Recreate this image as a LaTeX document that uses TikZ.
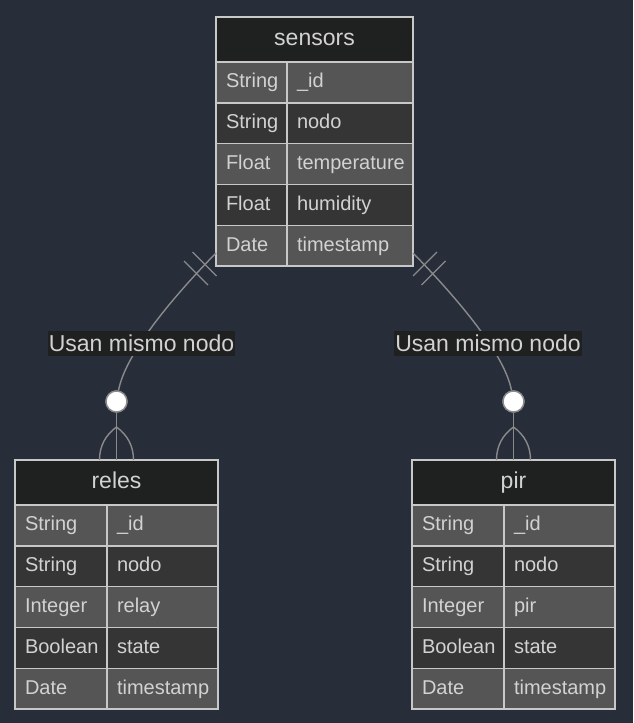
\documentclass[tikz,border=0pt]{standalone}
\usepackage{fontspec}
\setmainfont{Liberation Sans}
\usetikzlibrary{calc}
\definecolor{bgcol}{HTML}{282D3A}
\definecolor{hdcol}{HTML}{1F2020}
\definecolor{rowA}{HTML}{555555}
\definecolor{rowB}{HTML}{353535}
\definecolor{bordercol}{HTML}{C8C8C8}
\definecolor{txtcol}{HTML}{D2D2D2}
\definecolor{linecol}{HTML}{8A8A8A}
\newcommand{\rowfont}{\fontsize{20}{24}\selectfont}
\newcommand{\ttlfont}{\fontsize{23}{27}\selectfont}
\tikzset{
  cellbox/.style={draw=bordercol, line width=1.4pt, text=txtcol, font=\rowfont,
    anchor=north west, inner xsep=10pt, inner ysep=0pt, outer sep=0pt,
    minimum height=40.8pt, text height=12pt, text depth=1pt, align=left},
  headbox/.style={draw=bordercol, line width=1.4pt, fill=hdcol, text=txtcol, font=\ttlfont,
    anchor=north west, inner sep=0pt, outer sep=0pt, minimum height=45pt,
    text height=12pt, text depth=1pt},
  rel/.style={draw=linecol, line width=1.4pt},
  onecirc/.style={circle, draw=linecol, fill=white, line width=1.4pt, minimum size=21pt, inner sep=0pt},
  lbl/.style={fill=hdcol, text=txtcol, font=\ttlfont, inner xsep=1pt, inner ysep=0pt,
    minimum height=25pt, text height=16.5pt, text depth=1.5pt},
}
% #1 name, #2 x0, #3 w1, #4 w2, #5 ytop, #6 title, #7 rows
\newcommand{\ertab}[7]{%
  \pgfmathsetmacro{\wtot}{#3+#4}
  \node[headbox, minimum width=\wtot pt] (#1-h) at (#2,#5) {#6};
  \foreach \ty/\nm [count=\i] in {#7} {
    \ifodd\i \def\rc{rowA}\else\def\rc{rowB}\fi
    \pgfmathsetmacro{\yy}{#5+45+(\i-1)*40.8}
    \pgfmathsetmacro{\xx}{#2+#3}
    \node[cellbox, fill=\rc, text width=#3pt-20pt] (#1-t\i) at (#2,\yy) {\ty};
    \node[cellbox, fill=\rc, text width=#4pt-20pt] (#1-n\i) at (\xx,\yy) {\nm};
  }%
}
\begin{document}
\begin{tikzpicture}[x=1pt, y=-1pt]
\fill[bgcol] (0,0) rectangle (633,723);
\useasboundingbox (0,0) rectangle (633,723);

\ertab{s}{216}{71}{126}{17}{sensors}{String/\_id, String/nodo, Float/temperature, Float/humidity, Date/timestamp}
\ertab{r}{15}{92}{111}{460}{reles}{String/\_id, String/nodo, Integer/relay, Boolean/state, Date/timestamp}
\ertab{p}{412}{92}{111}{460}{pir}{String/\_id, String/nodo, Integer/pir, Boolean/state, Date/timestamp}

% circles
\node[onecirc] (cL) at (116.5,401.5) {};
\node[onecirc] (cR) at (513.5,401.5) {};

% left relationship
\coordinate (sL) at (216,253);
\draw[rel] (sL) .. controls (170,300) and (125,355) .. (cL);
\draw[rel] (192.5,252) -- (216.5,276);
\draw[rel] (184,261) -- (208,285);
\coordinate (fL) at (116.5,427);
\draw[rel] (cL) -- (fL);
\draw[rel] (fL) -- (r-h.north);
\draw[rel] (fL) .. controls (105.5,435) and (99.5,446) .. ($(r-h.north)+(-17,0)$);
\draw[rel] (fL) .. controls (127.5,435) and (133.5,446) .. ($(r-h.north)+(17,0)$);

% right relationship
\coordinate (sR) at (413,253);
\draw[rel] (sR) .. controls (459,300) and (505,355) .. (cR);
\draw[rel] (413,276) -- (437,252);
\draw[rel] (421.5,285) -- (445.5,261);
\coordinate (fR) at (513.5,427);
\draw[rel] (cR) -- (fR);
\draw[rel] (fR) -- (p-h.north);
\draw[rel] (fR) .. controls (502.5,435) and (496.5,446) .. ($(p-h.north)+(-17,0)$);
\draw[rel] (fR) .. controls (524.5,435) and (530.5,446) .. ($(p-h.north)+(17,0)$);

% redraw circles on top
\node[onecirc] at (cL) {};
\node[onecirc] at (cR) {};

% labels
\node[lbl] (lL) at (141.5,343.5) {Usan mismo nodo};
\node[lbl] (lR) at (488,343.5) {Usan mismo nodo};
\end{tikzpicture}
\end{document}
